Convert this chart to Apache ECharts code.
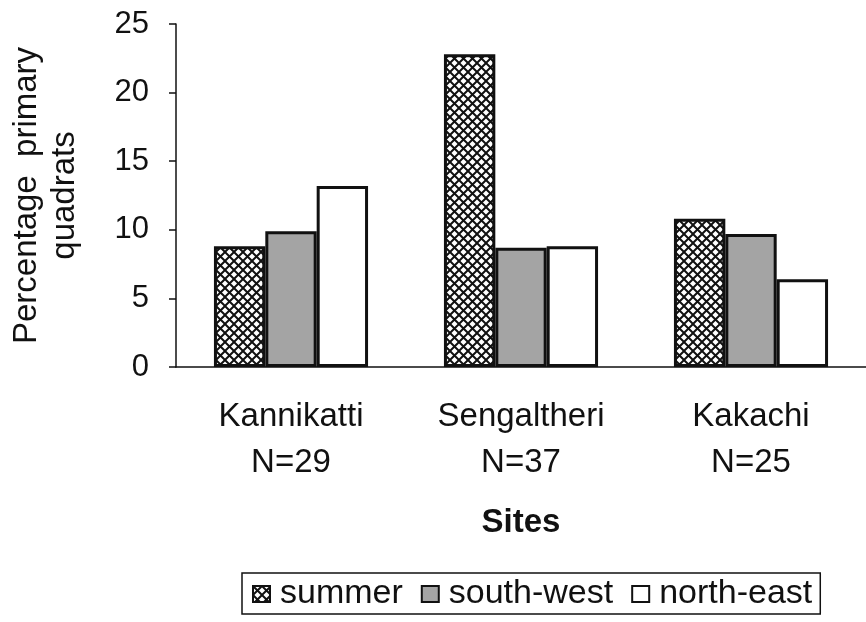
<!DOCTYPE html>
<html>
<head>
<meta charset="utf-8">
<script src="https://cdn.jsdelivr.net/npm/echarts@6/dist/echarts.min.js"></script>
<style>
  html, body { margin: 0; padding: 0; background: #fff; }
  #chart { width: 866px; height: 622px; }
</style>
</head>
<body>
<div id="chart"></div>
<script>
// data
var sites = ['Kannikatti\nN=29', 'Sengaltheri\nN=37', 'Kakachi\nN=25'];
var summer = [8.8, 22.8, 10.8];
var southWest = [9.9, 8.7, 9.7];
var northEast = [13.2, 8.8, 6.4];
var yTicks = [0, 5, 10, 15, 20, 25];

// crosshatch tile for the summer bars
function hatch() {
  var c = document.createElement('canvas');
  c.width = 9;
  c.height = 9;
  var g = c.getContext('2d');
  g.fillStyle = '#fff';
  g.fillRect(0, 0, 9, 9);
  g.strokeStyle = '#111';
  g.lineWidth = 2;
  g.beginPath();
  g.moveTo(-1, -1); g.lineTo(10, 10);
  g.moveTo(10, -1); g.lineTo(-1, 10);
  g.stroke();
  return c;
}

var font = '"Liberation Sans", Arial, sans-serif';
var chart = echarts.init(document.getElementById('chart'));

chart.setOption({
  animation: false,
  textStyle: { fontFamily: font, color: '#111' },
  grid: { left: 172, right: -10, top: 24, bottom: 255 },
  legend: {
    left: 242,
    top: 573,
    itemWidth: 17,
    itemHeight: 16,
    itemGap: 18,
    padding: [4, 8, 3, 10],
    borderColor: '#111',
    borderWidth: 1.5,
    icon: 'rect',
    textStyle: { fontSize: 34, color: '#111', padding: [0, 0, 0, 5] },
    data: ['summer', 'south-west', 'north-east']
  },
  xAxis: {
    type: 'category',
    data: sites,
    name: 'Sites',
    nameLocation: 'middle',
    nameGap: 139,
    nameTextStyle: { fontSize: 33, fontWeight: 'bold', color: '#111' },
    axisLine: { lineStyle: { color: '#111', width: 1.5 } },
    axisTick: { length: 7, lineStyle: { color: '#111', width: 1.5 } },
    axisLabel: { fontSize: 33, lineHeight: 46, margin: 27, color: '#111' }
  },
  yAxis: {
    type: 'value',
    min: yTicks[0],
    max: yTicks[yTicks.length - 1],
    interval: 5,
    name: 'Percentage  primary\nquadrats',
    nameLocation: 'middle',
    nameRotate: 90,
    nameGap: 92,
    nameTextStyle: { fontSize: 33, lineHeight: 38, color: '#111' },
    axisLine: { show: true, lineStyle: { color: '#111', width: 1.5 } },
    axisTick: { show: true, length: 7, lineStyle: { color: '#111', width: 1.5 } },
    splitLine: { show: false },
    axisLabel: { fontSize: 31, margin: 27, color: '#111' }
  },
  series: [
    {
      name: 'summer',
      type: 'bar',
      data: summer,
      barGap: '0%',
      barCategoryGap: '33%',
      itemStyle: { color: { image: hatch(), repeat: 'repeat' }, borderColor: '#111', borderWidth: 3 }
    },
    {
      name: 'south-west',
      type: 'bar',
      data: southWest,
      itemStyle: { color: '#a4a4a4', borderColor: '#111', borderWidth: 3 }
    },
    {
      name: 'north-east',
      type: 'bar',
      data: northEast,
      itemStyle: { color: '#fff', borderColor: '#111', borderWidth: 3 }
    }
  ]
});
</script>
</body>
</html>
